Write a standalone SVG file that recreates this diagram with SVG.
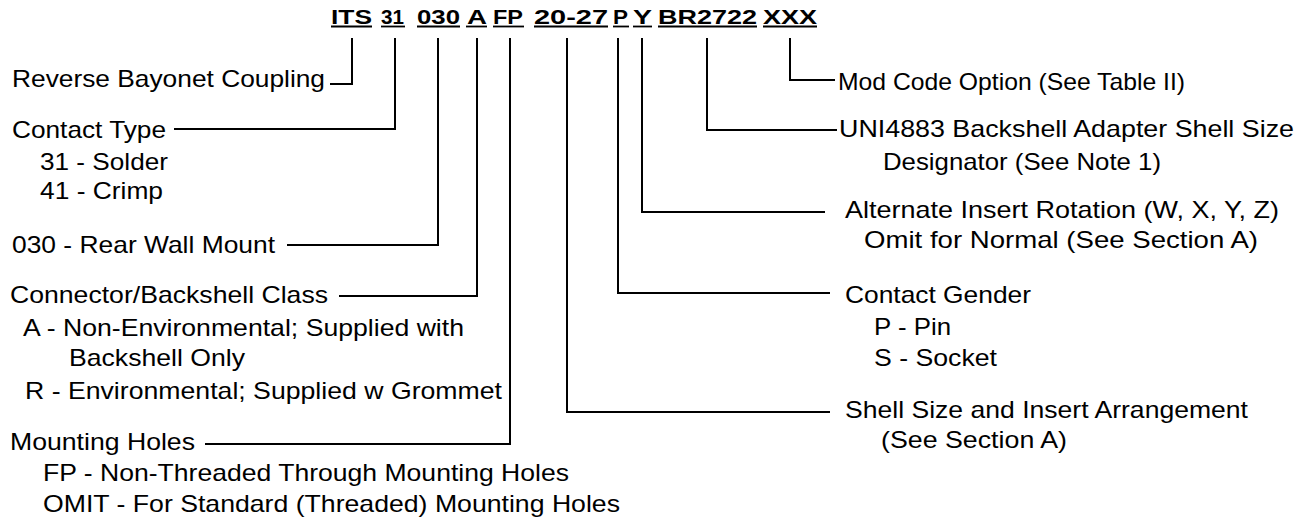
<svg xmlns="http://www.w3.org/2000/svg" width="1307" height="522" viewBox="0 0 1307 522">
<style>
.t{font-family:"Liberation Sans",Arial,sans-serif;font-size:24px;fill:#000}
.h{font-family:"Liberation Sans",Arial,sans-serif;font-size:20px;font-weight:bold;fill:#000}
.ul{stroke:#000;stroke-width:1.8}
.c{fill:none;stroke:#000;stroke-width:2}
</style>
<rect width="1307" height="522" fill="#fff"/>
<g id="header">
<text class="h" x="331" y="24" textLength="41" lengthAdjust="spacingAndGlyphs">ITS</text>
<text class="h" x="381" y="24" textLength="23" lengthAdjust="spacingAndGlyphs">31</text>
<text class="h" x="417" y="24" textLength="43" lengthAdjust="spacingAndGlyphs">030</text>
<text class="h" x="467" y="24" textLength="20" lengthAdjust="spacingAndGlyphs">A</text>
<text class="h" x="493" y="24" textLength="30" lengthAdjust="spacingAndGlyphs">FP</text>
<text class="h" x="534" y="24" textLength="74" lengthAdjust="spacingAndGlyphs">20-27</text>
<text class="h" x="613" y="24" textLength="15" lengthAdjust="spacingAndGlyphs">P</text>
<text class="h" x="633" y="24" textLength="19" lengthAdjust="spacingAndGlyphs">Y</text>
<text class="h" x="658" y="24" textLength="99" lengthAdjust="spacingAndGlyphs">BR2722</text>
<text class="h" x="763" y="24" textLength="54" lengthAdjust="spacingAndGlyphs">XXX</text>
<line class="ul" x1="331" y1="26.5" x2="372" y2="26.5"/>
<line class="ul" x1="381" y1="26.5" x2="405" y2="26.5"/>
<line class="ul" x1="417" y1="26.5" x2="460" y2="26.5"/>
<line class="ul" x1="466" y1="26.5" x2="487" y2="26.5"/>
<line class="ul" x1="493" y1="26.5" x2="524" y2="26.5"/>
<line class="ul" x1="534" y1="26.5" x2="608" y2="26.5"/>
<line class="ul" x1="613" y1="26.5" x2="629" y2="26.5"/>
<line class="ul" x1="633" y1="26.5" x2="652" y2="26.5"/>
<line class="ul" x1="658" y1="26.5" x2="757" y2="26.5"/>
<line class="ul" x1="763" y1="26.5" x2="817" y2="26.5"/>
</g>
<g id="connectors">
<path class="c" d="M352,38 V84 H330"/>
<path class="c" d="M395,38 V129 H174"/>
<path class="c" d="M438,38 V245 H287"/>
<path class="c" d="M477,38 V296 H339"/>
<path class="c" d="M510,38 V444 H205"/>
<path class="c" d="M567,38 V412 H830"/>
<path class="c" d="M618,38 V293 H830"/>
<path class="c" d="M642,38 V212 H825"/>
<path class="c" d="M707,38 V130 H837"/>
<path class="c" d="M790,38 V80 H835"/>
</g>
<g id="coupling">
<text class="t" x="12" y="87" textLength="313" lengthAdjust="spacingAndGlyphs">Reverse Bayonet Coupling</text>
</g>
<g id="contact-type">
<text class="t" x="12" y="138" textLength="154" lengthAdjust="spacingAndGlyphs">Contact Type</text>
<text class="t" x="40" y="170" textLength="128" lengthAdjust="spacingAndGlyphs">31 - Solder</text>
<text class="t" x="40" y="199" textLength="123" lengthAdjust="spacingAndGlyphs">41 - Crimp</text>
</g>
<g id="mount">
<text class="t" x="12" y="253" textLength="263" lengthAdjust="spacingAndGlyphs">030 - Rear Wall Mount</text>
</g>
<g id="class">
<text class="t" x="10" y="303" textLength="318" lengthAdjust="spacingAndGlyphs">Connector/Backshell Class</text>
<text class="t" x="23" y="336" textLength="441" lengthAdjust="spacingAndGlyphs">A - Non-Environmental; Supplied with</text>
<text class="t" x="69" y="366" textLength="176" lengthAdjust="spacingAndGlyphs">Backshell Only</text>
<text class="t" x="25" y="399" textLength="477" lengthAdjust="spacingAndGlyphs">R - Environmental; Supplied w Grommet</text>
</g>
<g id="mounting-holes">
<text class="t" x="10" y="450" textLength="185" lengthAdjust="spacingAndGlyphs">Mounting Holes</text>
<text class="t" x="43" y="481" textLength="526" lengthAdjust="spacingAndGlyphs">FP - Non-Threaded Through Mounting Holes</text>
<text class="t" x="43" y="512" textLength="577" lengthAdjust="spacingAndGlyphs">OMIT - For Standard (Threaded) Mounting Holes</text>
</g>
<g id="mod-code">
<text class="t" x="838" y="90" textLength="347" lengthAdjust="spacingAndGlyphs">Mod Code Option (See Table II)</text>
</g>
<g id="backshell-adapter">
<text class="t" x="839" y="137" textLength="455" lengthAdjust="spacingAndGlyphs">UNI4883 Backshell Adapter Shell Size</text>
<text class="t" x="883" y="170" textLength="278" lengthAdjust="spacingAndGlyphs">Designator (See Note 1)</text>
</g>
<g id="rotation">
<text class="t" x="845" y="218" textLength="434" lengthAdjust="spacingAndGlyphs">Alternate Insert Rotation (W, X, Y, Z)</text>
<text class="t" x="864" y="248" textLength="394" lengthAdjust="spacingAndGlyphs">Omit for Normal (See Section A)</text>
</g>
<g id="gender">
<text class="t" x="845" y="303" textLength="186" lengthAdjust="spacingAndGlyphs">Contact Gender</text>
<text class="t" x="874" y="335" textLength="77" lengthAdjust="spacingAndGlyphs">P - Pin</text>
<text class="t" x="874" y="366" textLength="123" lengthAdjust="spacingAndGlyphs">S - Socket</text>
</g>
<g id="shell-size">
<text class="t" x="845" y="418" textLength="403" lengthAdjust="spacingAndGlyphs">Shell Size and Insert Arrangement</text>
<text class="t" x="881" y="448" textLength="186" lengthAdjust="spacingAndGlyphs">(See Section A)</text>
</g>
</svg>
